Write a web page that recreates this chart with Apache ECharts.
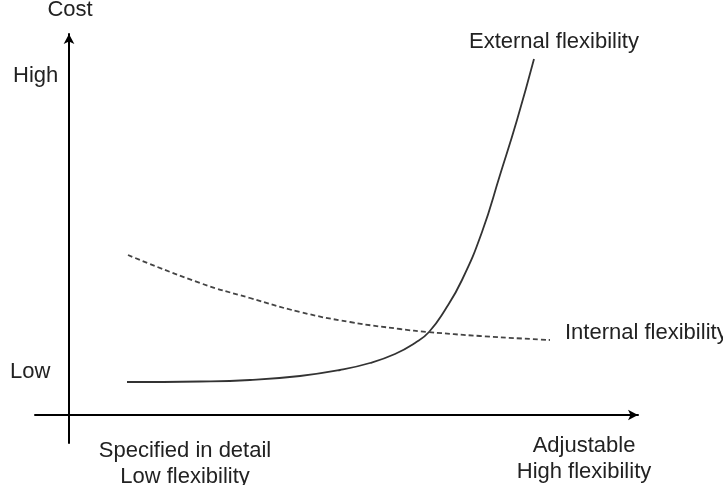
<!DOCTYPE html>
<html>
<head>
<meta charset="utf-8">
<script src="https://cdn.jsdelivr.net/npm/echarts@6/dist/echarts.min.js"></script>
<style>
  html, body { margin: 0; padding: 0; background: #fff; }
  #chart { width: 723px; height: 485px; }
</style>
</head>
<body>
<div id="chart"></div>
<script>
// Schematic curves, in axis units (origin where the two axes cross)
const externalX = [58, 131, 181, 231, 271, 301, 326, 346, 360, 376, 393, 413, 431, 448, 465];
const externalY = [33, 33.5, 35, 39, 45, 52, 61, 72, 83, 105, 135, 183, 240, 295, 356];

const internalX = [59, 131, 181, 231, 281, 331, 359, 411, 481];
const internalY = [160, 132, 117, 103, 93, 86, 83, 79, 75];

const yAxisName = 'Cost';
const yLevels = ['High', 'Low'];
const xLeftLabel = ['Specified in detail', 'Low flexibility'];
const xRightLabel = ['Adjustable', 'High flexibility'];
const seriesNames = ['External flexibility', 'Internal flexibility'];

const zip = (xs, ys) => xs.map((x, i) => [x, ys[i]]);

const chart = echarts.init(document.getElementById('chart'));

const font = '"Liberation Sans", Arial, sans-serif';
const txt = (text, x, y, align) => ({
  type: 'text',
  x: x,
  y: y,
  style: {
    text: text,
    fill: '#222',
    font: '22px ' + font,
    align: align || 'left',
    verticalAlign: 'middle',
  },
});

const axisBase = {
  type: 'value',
  axisLine: {
    onZero: true,
    symbol: ['none', 'arrow'],
    symbolSize: [8, 10],
    lineStyle: { color: '#000', width: 2 },
  },
  axisTick: { show: false },
  axisLabel: { show: false },
  splitLine: { show: false },
};

const option = {
  animation: false,
  backgroundColor: '#fff',
  grid: { left: 35, right: 85, top: 34, bottom: 42 },
  xAxis: { ...axisBase, min: -34, max: 569 },
  yAxis: { ...axisBase, min: -28, max: 381 },
  series: [
    {
      name: seriesNames[0],
      type: 'line',
      data: zip(externalX, externalY),
      smooth: 0.5,
      showSymbol: false,
      lineStyle: { color: '#333', width: 1.8 },
    },
    {
      name: seriesNames[1],
      type: 'line',
      data: zip(internalX, internalY),
      smooth: 0.5,
      showSymbol: false,
      lineStyle: { color: '#444', width: 1.8, type: [5, 3] },
    },
  ],
  graphic: [
    txt(yAxisName, 70, 10, 'center'),
    txt(yLevels[0], 13, 76),
    txt(yLevels[1], 10, 372),
    txt(xLeftLabel[0], 185, 451, 'center'),
    txt(xLeftLabel[1], 185, 477, 'center'),
    txt(xRightLabel[0], 584, 446, 'center'),
    txt(xRightLabel[1], 584, 472, 'center'),
    txt(seriesNames[0], 469, 42),
    txt(seriesNames[1], 565, 333),
  ],
};

chart.setOption(option);
</script>
</body>
</html>
